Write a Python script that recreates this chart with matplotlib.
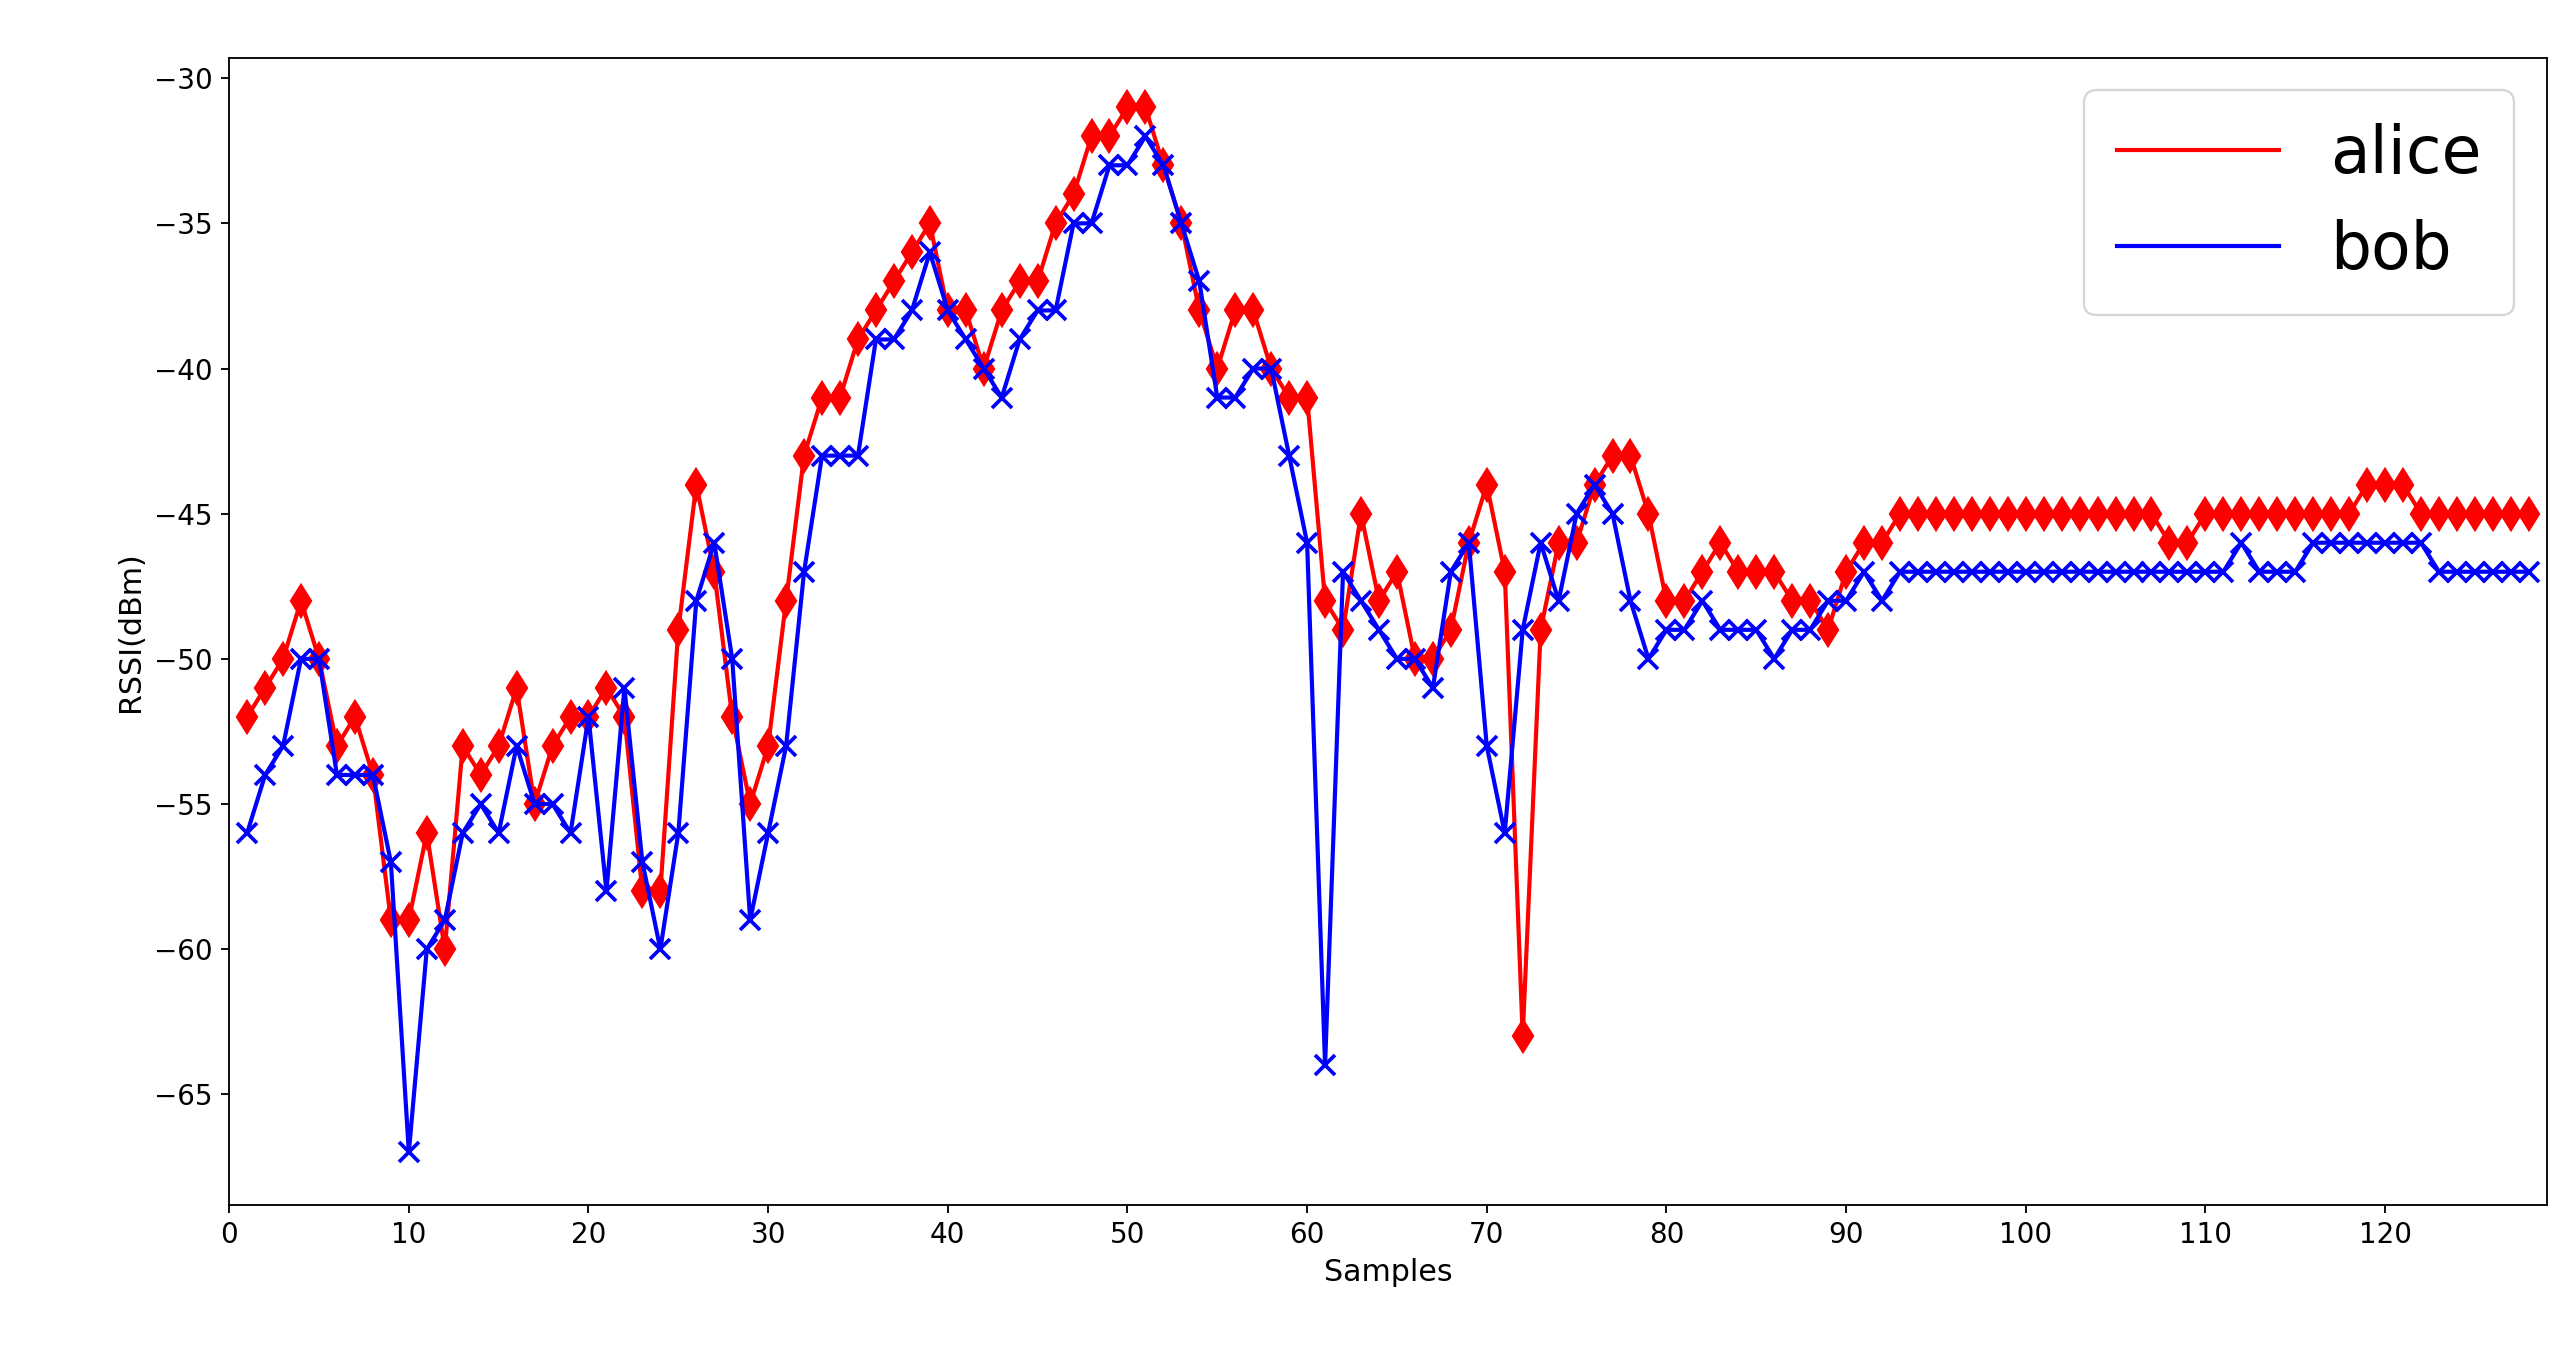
import matplotlib
matplotlib.use('Agg')
import matplotlib.pyplot as plt
from matplotlib.lines import Line2D

samples = list(range(1, 129))

alice = [-52, -51, -50, -48, -50, -53, -52, -54, -59, -59,
         -56, -60, -53, -54, -53, -51, -55, -53, -52, -52,
         -51, -52, -58, -58, -49, -44, -47, -52, -55, -53,
         -48, -43, -41, -41, -39, -38, -37, -36, -35, -38,
         -38, -40, -38, -37, -37, -35, -34, -32, -32, -31,
         -31, -33, -35, -38, -40, -38, -38, -40, -41, -41,
         -48, -49, -45, -48, -47, -50, -50, -49, -46, -44,
         -47, -63, -49, -46, -46, -44, -43, -43, -45, -48,
         -48, -47, -46, -47, -47, -47, -48, -48, -49, -47,
         -46, -46, -45, -45, -45, -45, -45, -45, -45, -45,
         -45, -45, -45, -45, -45, -45, -45, -46, -46, -45,
         -45, -45, -45, -45, -45, -45, -45, -45, -44, -44,
         -44, -45, -45, -45, -45, -45, -45, -45]

bob = [-56, -54, -53, -50, -50, -54, -54, -54, -57, -67,
       -60, -59, -56, -55, -56, -53, -55, -55, -56, -52,
       -58, -51, -57, -60, -56, -48, -46, -50, -59, -56,
       -53, -47, -43, -43, -43, -39, -39, -38, -36, -38,
       -39, -40, -41, -39, -38, -38, -35, -35, -33, -33,
       -32, -33, -35, -37, -41, -41, -40, -40, -43, -46,
       -64, -47, -48, -49, -50, -50, -51, -47, -46, -53,
       -56, -49, -46, -48, -45, -44, -45, -48, -50, -49,
       -49, -48, -49, -49, -49, -50, -49, -49, -48, -48,
       -47, -48, -47, -47, -47, -47, -47, -47, -47, -47,
       -47, -47, -47, -47, -47, -47, -47, -47, -47, -47,
       -47, -46, -47, -47, -47, -46, -46, -46, -46, -46,
       -46, -46, -47, -47, -47, -47, -47, -47]

fig = plt.figure(figsize=(15.45, 8.076), dpi=166.67)
ax = fig.add_axes([0.089, 0.105, 0.9, 0.852])
ax.plot(samples, alice, color='red', marker='d', markersize=10, linewidth=1.8)
ax.plot(samples, bob, color='blue', marker='x', markersize=9, markeredgewidth=1.6, linewidth=1.8)
ax.set_xlim(0, 129)
ax.set_ylim(-68.8, -29.3)
ax.set_xticks(range(0, 130, 10))
ax.tick_params(labelsize=12)
ax.set_xlabel('Samples', fontsize=13)
ax.set_ylabel('RSSI(dBm)', fontsize=13)
handles = [Line2D([], [], color='red', linewidth=1.8),
           Line2D([], [], color='blue', linewidth=1.8)]
ax.legend(handles, ['alice', 'bob'], loc='upper right', fontsize=28,
          handlelength=2.5, borderpad=0.5)
fig.savefig('out.png')
